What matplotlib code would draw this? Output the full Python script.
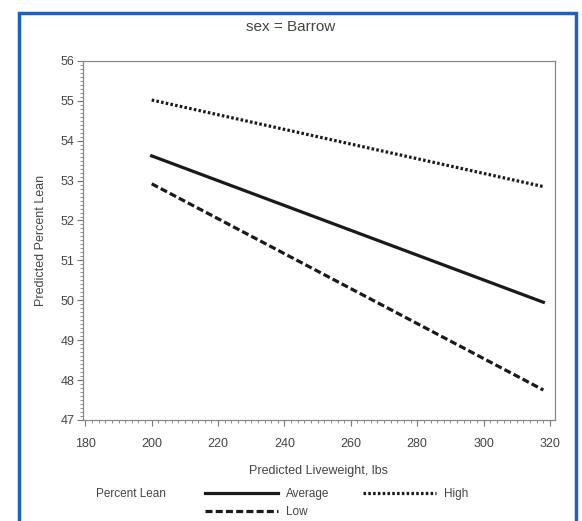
import matplotlib.pyplot as plt
from matplotlib.patches import Rectangle
from matplotlib.ticker import MultipleLocator

plt.rcParams['font.family'] = ['Liberation Sans', 'DejaVu Sans']

# predicted liveweight (lbs) at ends of each line
weight = [200, 318]
# predicted percent lean by lean level
lean_average = [53.62, 49.95]
lean_high = [55.02, 52.85]
lean_low = [52.92, 47.75]

xticks = [180, 200, 220, 240, 260, 280, 300, 320]
yticks = [47, 48, 49, 50, 51, 52, 53, 54, 55, 56]

txt = '#444444'
fig = plt.figure(figsize=(5.82, 5.21), dpi=100)
ax = fig.add_axes([0.1426, 0.194, 0.811, 0.689])

l1, = ax.plot(weight, lean_average, color='#1a1a1a', lw=2.3, ls='-', label='Average')
l3, = ax.plot(weight, lean_low, color='#1a1a1a', lw=2.3, ls=(0, (2.2, 1.0)), label='Low')
l2, = ax.plot(weight, lean_high, color='#1a1a1a', lw=2.3, ls=(0, (0.8, 0.7)), label='High')

ax.set_xlim(179.3, 321.5)
ax.set_ylim(47, 56)
ax.set_xticks(xticks)
ax.set_yticks(yticks)
ax.xaxis.set_minor_locator(MultipleLocator(2))
ax.yaxis.set_minor_locator(MultipleLocator(0.1))
ax.tick_params(which='major', length=4, width=0.8, color='#777777', labelsize=9, labelcolor=txt)
ax.tick_params(axis='x', which='major', pad=9)
ax.tick_params(axis='y', which='major', pad=2)
ax.tick_params(which='minor', length=2, width=0.6, color='#777777')
for s in ax.spines.values():
    s.set_color('#888888')
    s.set_linewidth(0.9)

ax.set_xlabel('Predicted Liveweight, lbs', fontsize=9, color=txt, labelpad=11)
ax.set_ylabel('Predicted Percent Lean', fontsize=9, color=txt, labelpad=10)
fig.text(0.5, 0.949, 'sex = Barrow', ha='center', va='center', fontsize=11, color=txt)

# legend
fig.text(0.165, 0.052, 'Percent Lean', ha='left', va='center', fontsize=8.5, color=txt)
fig.legend([l1, l3, l2], ['Average', 'Low', 'High'], ncol=2, loc='upper left',
           bbox_to_anchor=(0.352, 0.063), frameon=False, fontsize=8.5, labelcolor=txt,
           handlelength=6.2, handletextpad=0.7, columnspacing=2.8, labelspacing=0.5,
           borderpad=0, borderaxespad=0)

# blue frame around the figure
fig.patches.append(Rectangle((0.032, -0.05), 0.958, 1.025, transform=fig.transFigure,
                             fill=False, edgecolor='#1f5fbf', lw=2.5))

fig.savefig('out.png', dpi=100)
